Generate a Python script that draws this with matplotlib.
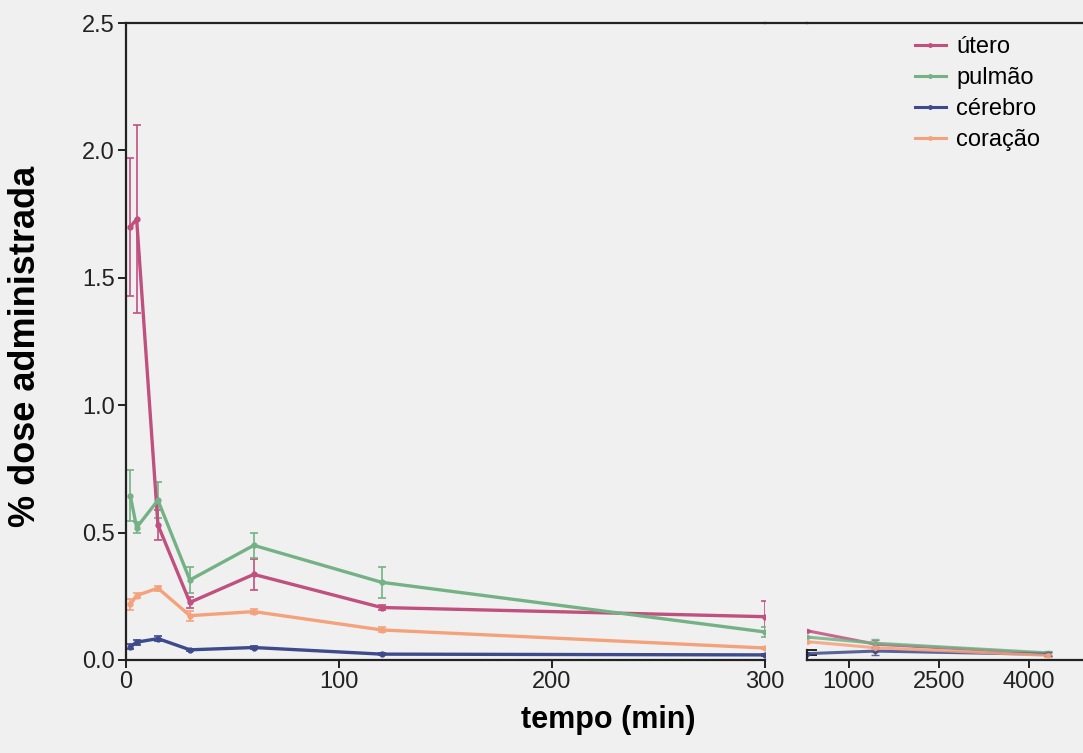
import numpy as np
import matplotlib
matplotlib.use("Agg")
import matplotlib.pyplot as plt
from matplotlib.lines import Line2D

plt.rcParams['font.family'] = ['Liberation Sans', 'DejaVu Sans']

# dados
tempo = [2, 5, 15, 30, 60, 120, 300]
utero = [1.70, 1.73, 0.53, 0.226, 0.336, 0.206, 0.17]
utero_err = [0.27, 0.37, 0.06, 0.02, 0.06, 0.01, 0.06]
pulmao = [0.645, 0.52, 0.627, 0.314, 0.45, 0.305, 0.11]
pulmao_err = [0.10, 0.02, 0.07, 0.05, 0.05, 0.06, 0.02]
cerebro = [0.052, 0.07, 0.084, 0.04, 0.049, 0.023, 0.02]
cerebro_err = [0.01, 0.01, 0.01, 0.005, 0.005, 0.005, 0.005]
coracao = [0.218, 0.253, 0.282, 0.174, 0.19, 0.118, 0.047]
coracao_err = [0.02, 0.01, 0.01, 0.02, 0.01, 0.01, 0.005]

# painel da direita (tempos longos)
tempo_longo = [300, 1440, 4320]
utero_longo = [0.115, 0.062, 0.025]
pulmao_longo = [0.09, 0.066, 0.028]
cerebro_longo = [0.025, 0.035, 0.022]
coracao_longo = [0.072, 0.048, 0.018]
erro_longo = [0.0, 0.015, 0.008]

nomes = ['útero', 'pulmão', 'cérebro', 'coração']
cores = ['#c0507e', '#74b285', '#3d4a8c', '#f4a27c']

bg = '#f0f0f0'
W, H = 1083, 753
fig = plt.figure(figsize=(W / 100, H / 100), dpi=100, facecolor=bg)

ax1 = fig.add_axes([126 / W, 1 - 660 / H, (765 - 126) / W, (660 - 23) / H], facecolor=bg)
ax2 = fig.add_axes([807 / W, 1 - 660 / H, (W - 807) / W, (660 - 23) / H], facecolor=bg)

series = [(utero, utero_err), (pulmao, pulmao_err), (cerebro, cerebro_err), (coracao, coracao_err)]
longos = [utero_longo, pulmao_longo, cerebro_longo, coracao_longo]

for (y, e), yl, c, n in zip(series, longos, cores, nomes):
    ax1.errorbar(tempo, y, yerr=e, color=c, lw=2.4, marker='o', ms=3.5,
                 capsize=3, elinewidth=1.2, capthick=1.2, label=n)
    ax2.errorbar(tempo_longo, yl, yerr=erro_longo, color=c, lw=2.2, marker='o', ms=3,
                 capsize=3, elinewidth=1.0, capthick=1.0, alpha=0.85)

ax1.set_xlim(0, 300)
ax1.set_ylim(0, 2.5)
ax1.set_xticks([0, 100, 200, 300])
ax1.set_yticks([0.0, 0.5, 1.0, 1.5, 2.0, 2.5])
ax1.set_yticklabels(['0.0', '0.5', '1.0', '1.5', '2.0', '2.5'])
ax1.spines['right'].set_visible(False)
for s in ax1.spines.values():
    s.set_color('#222222')
    s.set_linewidth(1.6)
ax1.tick_params(axis='both', direction='out', length=6, width=1.4, colors='#222222',
                labelsize=17, pad=2)

ax2.set_xlim(300, 4900)
ax2.set_ylim(0, 2.5)
ax2.set_xticks([1000, 2500, 4000])
ax2.spines['right'].set_visible(False)
ax2.spines['left'].set_bounds(0, 0.04)
for s in ax2.spines.values():
    s.set_color('#222222')
    s.set_linewidth(1.6)
ax2.set_yticks([0.02, 0.04])
ax2.tick_params(axis='y', direction='in', length=7, width=1.4, colors='#222222', labelleft=False)
ax2.tick_params(axis='x', direction='out', length=6, width=1.4, colors='#222222',
                labelsize=17, pad=2)

# linha superior contínua entre os painéis
fig.add_artist(Line2D([765 / W, 807 / W], [1 - 23 / H, 1 - 23 / H], color='#222222', lw=1.6))

fig.text(608 / W, 1 - 720 / H, 'tempo (min)', ha='center', va='center',
         fontsize=22, fontweight='bold')
fig.text(26 / W, 1 - 346 / H, '% dose administrada', ha='center', va='center',
         rotation=90, fontsize=26, fontweight='bold')

handles = [Line2D([], [], color=c, lw=2.2, marker='o', ms=2.5) for c in cores]
fig.legend(handles, nomes, loc='upper left', bbox_to_anchor=(915 / W, 1 - 36 / H),
           frameon=False, fontsize=17, handlelength=1.3, handletextpad=0.45,
           labelspacing=0.38, borderpad=0, borderaxespad=0)

plt.savefig('out.png', dpi=100, facecolor=bg)
